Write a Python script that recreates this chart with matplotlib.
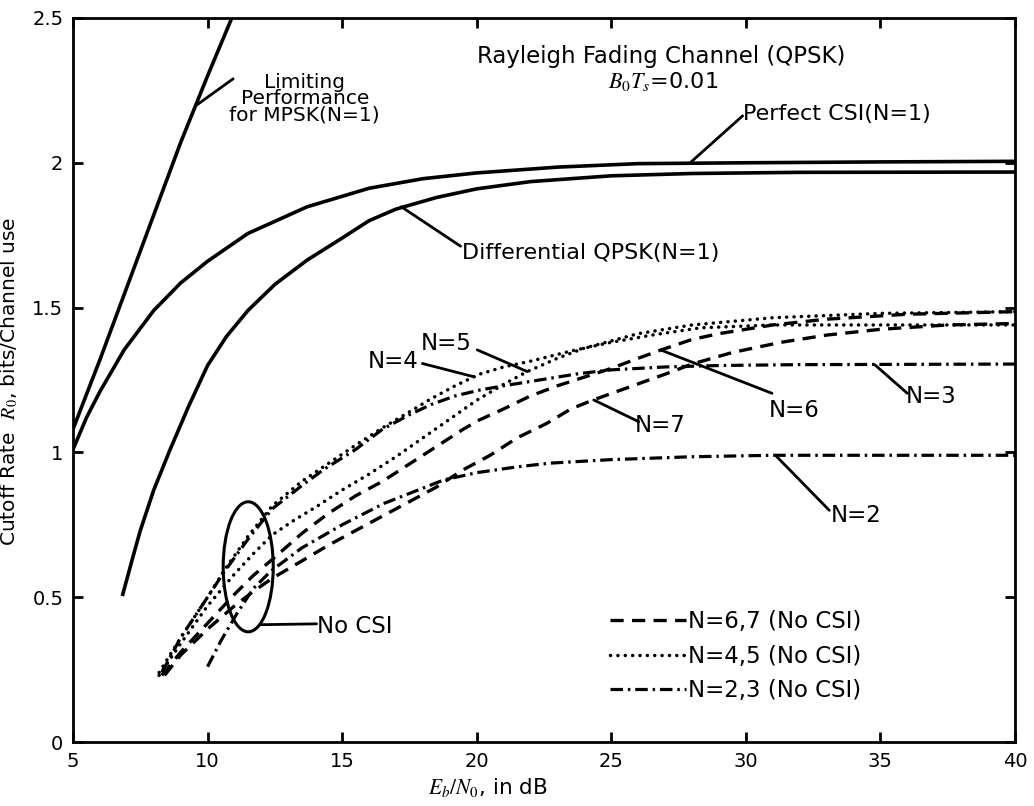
import numpy as np
import matplotlib.pyplot as plt
from matplotlib.patches import Ellipse

plt.rcParams['font.family'] = 'DejaVu Sans'
plt.rcParams['mathtext.fontset'] = 'stix'
plt.rcParams['lines.scale_dashes'] = False

# limiting performance for MPSK (N=1)
lim_x = [5, 6, 7, 8, 9, 10, 10.9]
lim_y = [1.08, 1.32, 1.57, 1.82, 2.07, 2.30, 2.5]

# perfect CSI (N=1)
pcsi_x = [5, 5.5, 6, 6.9, 8, 9, 10, 11.5, 13.7, 16, 18, 20, 23, 26, 30, 35, 40]
pcsi_y = [1.01, 1.12, 1.21, 1.354, 1.49, 1.585, 1.66, 1.756, 1.848, 1.912,
          1.945, 1.965, 1.985, 1.997, 2.0, 2.003, 2.005]

# differential QPSK (N=1)
dq_x = [6.85, 7.2, 7.5, 8, 8.6, 9.3, 10, 10.7, 11.5, 12.5, 13.7, 15, 16, 17,
        18.5, 20, 22, 25, 28, 32, 40]
dq_y = [0.51, 0.63, 0.73, 0.87, 1.008, 1.16, 1.30, 1.40, 1.49, 1.58, 1.664,
        1.74, 1.80, 1.84, 1.88, 1.91, 1.935, 1.955, 1.963, 1.967, 1.968]

# no CSI curves
n2_x = [10.0, 10.5, 11.1, 11.7, 12.35, 13.5, 15, 16.56, 18.78, 20, 21.5, 22.74,
        25, 28, 31, 35, 40]
n2_y = [0.26, 0.35, 0.445, 0.53, 0.59, 0.67, 0.75, 0.824, 0.905, 0.93, 0.95,
        0.963, 0.975, 0.985, 0.99, 0.99, 0.99]

n3_x = [8.3, 9, 10, 10.6, 11.5, 12.4, 13.5, 14.3, 15.5, 16.5, 17.5, 18.3, 19.2,
        20.1, 21, 22, 23.8, 25, 27, 29, 32, 40]
n3_y = [0.24, 0.36, 0.50, 0.585, 0.70, 0.805, 0.885, 0.94, 1.01, 1.08, 1.13,
        1.165, 1.195, 1.215, 1.23, 1.245, 1.272, 1.285, 1.295, 1.30, 1.303, 1.305]

n4_x = [8.2, 9, 10, 10.6, 11.5, 12.4, 13.5, 14.3, 15.5, 16.5, 17.5, 18.3, 19.2,
        20.1, 21, 22, 23.5, 25, 26.5, 28.3, 31, 35, 40]
n4_y = [0.24, 0.36, 0.50, 0.59, 0.71, 0.815, 0.90, 0.95, 1.025, 1.085, 1.14,
        1.185, 1.23, 1.27, 1.295, 1.315, 1.35, 1.38, 1.405, 1.43, 1.44, 1.44, 1.44]

n5_x = [8.2, 9, 10, 11, 11.7, 12.4, 13.2, 14, 15, 16, 17, 18, 19, 20, 21, 21.9,
        23, 24, 26, 28, 31, 35, 40]
n5_y = [0.23, 0.34, 0.47, 0.58, 0.65, 0.715, 0.765, 0.81, 0.87, 0.925, 0.985,
        1.05, 1.115, 1.18, 1.235, 1.28, 1.325, 1.36, 1.41, 1.44, 1.465, 1.48, 1.486]

n6_x = [8.3, 9, 10, 11, 11.7, 12.4, 13.5, 14.5, 15.5, 16.5, 17.5, 18.5, 19.5,
        20.1, 21, 22, 23, 24, 25, 26, 26.8, 28, 29, 31, 33, 36, 40]
n6_y = [0.23, 0.31, 0.41, 0.51, 0.575, 0.63, 0.72, 0.79, 0.85, 0.90, 0.96, 1.02,
        1.08, 1.112, 1.15, 1.195, 1.23, 1.26, 1.29, 1.325, 1.352, 1.39, 1.41,
        1.44, 1.46, 1.477, 1.486]

n7_x = [8.4, 9, 10, 11, 11.7, 12.4, 13.5, 14.5, 15.5, 16.5, 17.5, 18.5, 19.5,
        20.5, 21.5, 22.6, 23.5, 24.3, 25.5, 27, 28, 29.5, 31.3, 33, 35, 37.5, 40]
n7_y = [0.23, 0.30, 0.39, 0.47, 0.52, 0.565, 0.625, 0.68, 0.73, 0.78, 0.83,
        0.88, 0.94, 0.99, 1.05, 1.10, 1.15, 1.18, 1.22, 1.27, 1.305, 1.345, 1.38,
        1.405, 1.425, 1.44, 1.445]

x_ticks = [5, 10, 15, 20, 25, 30, 35, 40]
y_ticks = [0, 0.5, 1, 1.5, 2, 2.5]
y_tick_labels = ['0', '0.5', '1', '1.5', '2', '2.5']
legend_labels = ['N=6,7 (No CSI)', 'N=4,5 (No CSI)', 'N=2,3 (No CSI)']

fig = plt.figure(figsize=(10.34, 8.06), dpi=100)
ax = fig.add_axes([0.0706, 0.0794, 0.911, 0.8983])

dashed = (0, (9.5, 6))
dotted = (0, (0.1, 5.2))
dashdot = (0, (9, 3.5, 1.8, 3.5))

ax.plot(lim_x, lim_y, color='black', lw=2.6)
ax.plot(pcsi_x, pcsi_y, color='black', lw=2.6)
ax.plot(dq_x, dq_y, color='black', lw=2.6)

l2, = ax.plot(n2_x, n2_y, color='black', lw=2.3, ls=dashdot)
ax.plot(n3_x, n3_y, color='black', lw=2.3, ls=dashdot)
l4, = ax.plot(n4_x, n4_y, color='black', lw=2.5, ls=dotted, dash_capstyle='round')
ax.plot(n5_x, n5_y, color='black', lw=2.5, ls=dotted, dash_capstyle='round')
l6, = ax.plot(n6_x, n6_y, color='black', lw=2.4, ls=dashed)
ax.plot(n7_x, n7_y, color='black', lw=2.4, ls=dashed)

ax.set_xlim(5, 40)
ax.set_ylim(0, 2.5)
ax.set_xticks(x_ticks)
ax.set_yticks(y_ticks)
ax.set_yticklabels(y_tick_labels)
ax.tick_params(direction='in', length=7, width=2, top=True, right=True,
               labelsize=14, pad=7)
for s in ax.spines.values():
    s.set_linewidth(2)


def leader(p0, p1):
    ax.annotate('', xy=p0, xytext=p1,
                arrowprops=dict(arrowstyle='-', lw=2, color='black',
                                shrinkA=0, shrinkB=0))


# limiting performance label
ax.text(13.61, 2.132, 'Limiting\nPerformance\nfor MPSK(N=1)', ha='center',
        va='bottom', multialignment='center', linespacing=0.82, fontsize=14.5)
leader((9.59, 2.199), (10.95, 2.29))

ax.text(20.0, 2.346, 'Rayleigh Fading Channel (QPSK)', ha='left', va='baseline',
        fontsize=16.5)
ax.text(24.87, 2.258, r'$B_0T_s$=0.01', ha='left', va='baseline', fontsize=16)

ax.text(29.88, 2.148, 'Perfect CSI(N=1)', ha='left', va='baseline', fontsize=16)
leader((27.93, 2.0), (29.88, 2.162))

ax.text(19.45, 1.668, 'Differential QPSK(N=1)', ha='left', va='baseline',
        fontsize=16)
leader((17.2, 1.848), (19.4, 1.712))

# N labels
ax.text(16.9, 1.29, 'N=4', ha='center', va='baseline', fontsize=16.5)
leader((19.9, 1.261), (17.98, 1.307))
ax.text(18.86, 1.354, 'N=5', ha='center', va='baseline', fontsize=16.5)
leader((21.88, 1.279), (20.02, 1.354))
ax.text(31.8, 1.123, 'N=6', ha='center', va='baseline', fontsize=16.5)
leader((26.83, 1.354), (30.97, 1.204))
ax.text(26.83, 1.071, 'N=7', ha='center', va='baseline', fontsize=16.5)
leader((24.35, 1.181), (26.02, 1.106))
ax.text(36.87, 1.17, 'N=3', ha='center', va='baseline', fontsize=16.5)
leader((34.8, 1.302), (36.0, 1.204))
ax.text(34.1, 0.76, 'N=2', ha='center', va='baseline', fontsize=16.5)
leader((31.1, 0.99), (33.1, 0.80))

# no CSI ellipse
ax.add_patch(Ellipse((11.51, 0.605), 1.86, 0.449, fill=False, lw=2.2,
                     color='black'))
ax.text(14.05, 0.375, 'No CSI', ha='left', va='baseline', fontsize=16.5)
leader((11.94, 0.405), (14.05, 0.408))

ax.legend([l6, l4, l2], legend_labels, loc='upper left',
          bbox_to_anchor=(0.570, 0.182), frameon=False, handlelength=3.3,
          handletextpad=0.1, labelspacing=0.5, borderpad=0, borderaxespad=0,
          fontsize=16.5)

fig.text(488 / 1034, 1 - 794 / 806, r'$E_b/N_0$, in dB', ha='center',
         va='baseline', fontsize=15.5)
fig.text(9 / 1034, 0.527, r'Cutoff Rate  $R_0$, bits/Channel use', rotation=90,
         ha='center', va='center', fontsize=14.5)

fig.savefig('out.png', dpi=100)
